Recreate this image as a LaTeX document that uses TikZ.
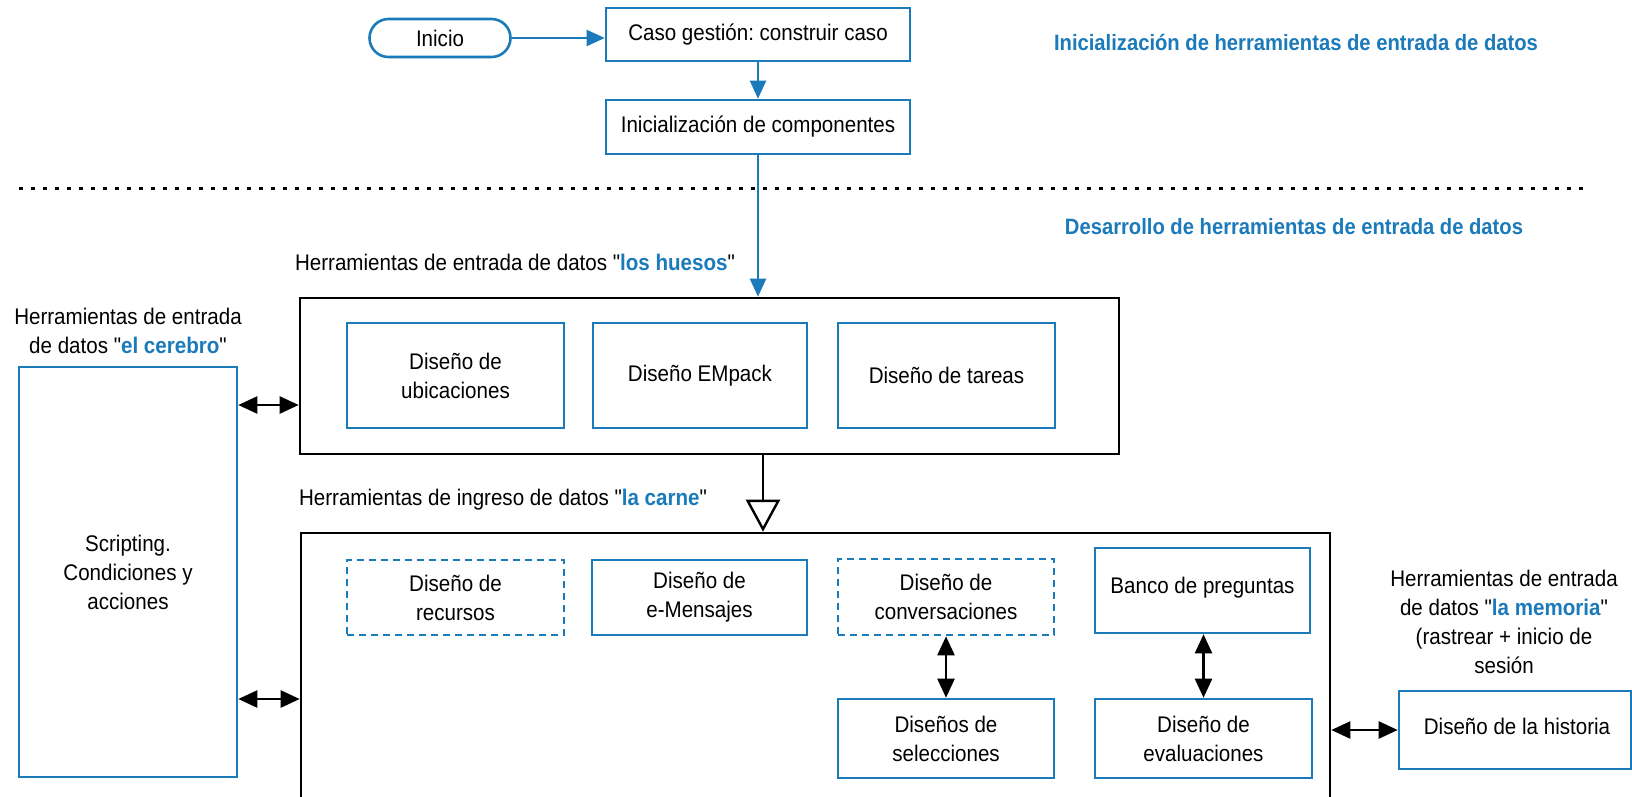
\documentclass[tikz,border=0pt]{standalone}
\usepackage{fontspec}
\setmainfont{Liberation Sans}[Ligatures=TeXOff, FakeStretch=0.91]
\usetikzlibrary{arrows.meta,calc}
\definecolor{myblue}{RGB}{26,122,186}
\newcommand{\hl}[1]{\textcolor{myblue}{\textbf{#1}}}
\newcommand{\qq}{"}
\frenchspacing
\tikzset{
  every node/.style={font=\fontsize{22.6}{29}\selectfont, align=center, inner sep=0pt},
  bluebox/.style={draw=myblue, line width=2.6pt},
  dashbox/.style={bluebox, dash pattern=on 7pt off 5pt},
  blackbox/.style={draw=black, line width=2.6pt},
  bluearrow/.style={draw=myblue, line width=2.2pt, -{Triangle[length=18pt,width=16pt]}},
  dbl/.style={draw=black, line width=2.4pt, {Triangle[length=19pt,width=17pt]}-{Triangle[length=19pt,width=17pt]}},
  gen/.style={draw=black, line width=2.4pt, -{Triangle[open,length=32pt,width=34pt,fill=white]}},
  sepline/.style={draw=black, line width=3pt, dash pattern=on 4pt off 8pt},
  title/.style={text=myblue, font=\fontsize{22.2}{29}\selectfont\bfseries}
}
\begin{document}
\begin{tikzpicture}[x=1pt,y=-1pt]
\clip (0,0) rectangle (1632,796);
\fill[white] (0,0) rectangle (1632,796);
% top part
\node[bluebox, rounded corners=19pt, minimum width=141pt, minimum height=38pt] (inicio) at (440,38) {Inicio};
\node[bluebox, minimum width=304pt, minimum height=53pt] (caso) at (758,34.5) {Caso gestión: construir caso};
\node[bluebox, minimum width=304pt, minimum height=54pt] (inic) at (758,127) {Inicialización de componentes};
\node[title] (tinit) at (1296,42) {Inicialización de herramientas de entrada de datos};
\node[title] (tdes) at (1294,227) {Desarrollo de herramientas de entrada de datos};
\coordinate (sepL) at (19,188);
\coordinate (sepR) at (1590,188);
\draw[sepline] (sepL) -- (sepR);
% huesos
\node (lhuesos) at (515,262) {Herramientas de entrada de datos \qq\hl{los huesos}\qq};
\node[blackbox, minimum width=819pt, minimum height=156pt] (huesos) at (709.5,376) {};
\node[bluebox, minimum width=217pt, minimum height=105pt] (ubic) at (455.5,375.5) {Diseño de\\ubicaciones};
\node[bluebox, minimum width=214pt, minimum height=105pt] (empack) at (700,375.5) {Diseño EMpack};
\node[bluebox, minimum width=217pt, minimum height=105pt] (tareas) at (946.5,375.5) {Diseño de tareas};
% cerebro
\node (lcerebro) at (128,331) {Herramientas de entrada\\de datos \qq\hl{el cerebro}\qq};
\node[bluebox, minimum width=218pt, minimum height=410pt] (cerebro) at (128,572) {Scripting.\\Condiciones y\\acciones};
% carne
\node (lcarne) at (503,500) {Herramientas de ingreso de datos \qq\hl{la carne}\qq};
\node[blackbox, minimum width=1029pt, minimum height=300pt] (carne) at (815.5,683) {};
\node[dashbox, minimum width=217pt, minimum height=75pt] (recursos) at (455.5,597.5) {Diseño de\\recursos};
\node[bluebox, minimum width=215pt, minimum height=75pt] (emens) at (699.5,597.5) {Diseño de\\e-Mensajes};
\node[dashbox, minimum width=216pt, minimum height=76pt] (conv) at (946,597) {Diseño de\\conversaciones};
\node[bluebox, minimum width=215pt, minimum height=85pt] (banco) at (1202.5,590.5) {};
\node (tbanco) at (1202.5,588) {Banco de preguntas};
\node[bluebox, minimum width=216pt, minimum height=79pt] (selec) at (946,738.5) {Diseños de\\selecciones};
\node[bluebox, minimum width=217pt, minimum height=79pt] (eval) at (1203.5,738.5) {Diseño de\\evaluaciones};
% memoria
\node (lmemoria) at (1504,622) {Herramientas de entrada\\de datos \qq\hl{la memoria}\qq\\(rastrear + inicio de\\sesión};
\node[bluebox, minimum width=232pt, minimum height=78pt] (historia) at (1515,730) {};
\node (thist) at (1517,726) {Diseño de la historia};
% connectors
\draw[bluearrow] (inicio.east) -- (inicio.east -| caso.west);
\draw[bluearrow] (caso) -- (inic);
\draw[bluearrow] (inic.south) -- (inic.south |- huesos.north);
\coordinate (a1) at (0,405);
\coordinate (a2) at (0,699);
\coordinate (g) at (763,0);
\draw[dbl] (cerebro.east |- a1) -- (huesos.west |- a1);
\draw[dbl] (cerebro.east |- a2) -- (carne.west |- a2);
\draw[gen] (huesos.south -| g) -- (carne.north -| g);
\draw[dbl] (conv) -- (selec);
\draw[dbl] (banco.south -| eval) -- (eval);
\draw[dbl] (carne.east |- historia) -- (historia.west);
\end{tikzpicture}
\end{document}
